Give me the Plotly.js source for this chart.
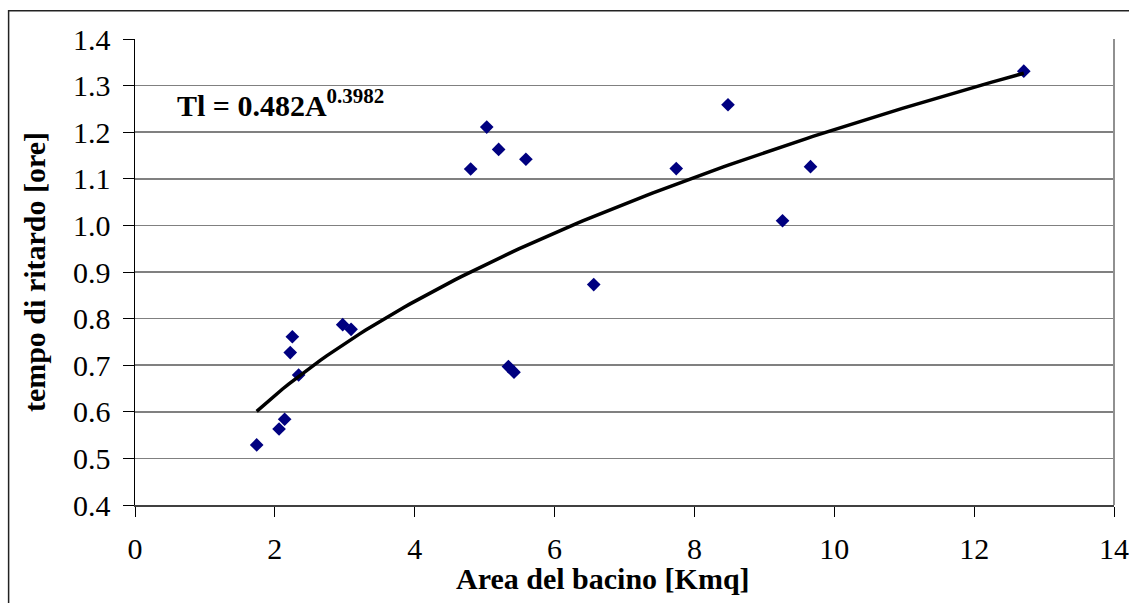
<!DOCTYPE html>
<html>
<head>
<meta charset="utf-8">
<script src="https://cdn.plot.ly/plotly-3.0.1.min.js"></script>
<style>
html, body { margin:0; padding:0; background:#fff; }
#chart { width:1129px; height:603px; }
</style>
</head>
<body>
<div id="chart"></div>
<script>
const areaKmq = [1.74, 2.06, 2.14, 2.22, 2.25, 2.34, 2.97, 3.09, 4.80, 5.03, 5.20, 5.34, 5.42, 5.59, 6.56, 7.74, 8.48, 9.26, 9.66, 12.71];
const lagTime = [0.529, 0.563, 0.584, 0.727, 0.761, 0.679, 0.787, 0.777, 1.121, 1.211, 1.163, 0.697, 0.685, 1.142, 0.873, 1.122, 1.259, 1.010, 1.126, 1.331];

// Power trendline shown on the chart: Tl = 0.482 A^0.3982
const trendCoef = 0.482;
const trendExp = 0.3982;

const xTickVals = [0, 2, 4, 6, 8, 10, 12, 14];
const yTickVals = [0.4, 0.5, 0.6, 0.7, 0.8, 0.9, 1.0, 1.1, 1.2, 1.3, 1.4];
const xTitle = 'Area del bacino [Kmq]';
const yTitle = 'tempo di ritardo [ore]';

const aMin = Math.min(...areaKmq), aMax = Math.max(...areaKmq);
const trendX = [], trendY = [];
const nT = 120;
for (let i = 0; i <= nT; i++) {
  const a = aMin + (aMax - aMin) * i / nT;
  trendX.push(a);
  trendY.push(trendCoef * Math.pow(a, trendExp));
}

const serif = "Liberation Serif, Times New Roman, serif";

const data = [
  {
    x: areaKmq, y: lagTime, type: 'scatter', mode: 'markers',
    marker: { symbol: 'diamond', size: 10.5, color: '#000080', line: { width: 0 } },
    showlegend: false, hoverinfo: 'x+y'
  },
  {
    x: trendX, y: trendY, type: 'scatter', mode: 'lines',
    line: { color: '#000000', width: 3.5 },
    showlegend: false, hoverinfo: 'skip'
  }
];

const layout = {
  width: 1129, height: 603,
  margin: { l: 135, r: 15, t: 39, b: 98 },
  paper_bgcolor: '#ffffff', plot_bgcolor: '#ffffff',
  font: { family: serif, color: '#000000', size: 30 },
  xaxis: {
    range: [0, 14], tickvals: xTickVals, ticktext: xTickVals.map(String),
    showgrid: false, zeroline: false,
    showline: true, linecolor: '#404040', linewidth: 2,
    ticks: 'outside', ticklen: 10, tickcolor: '#000000', tickwidth: 1,
    ticklabelstandoff: 6,
    tickfont: { family: serif, size: 30, color: '#000' }
  },
  yaxis: {
    range: [0.4, 1.4], tickvals: yTickVals, ticktext: yTickVals.map(v => v.toFixed(1)),
    showgrid: true, gridcolor: '#808080', gridwidth: 1.5,
    zeroline: false,
    showline: true, linecolor: '#000000', linewidth: 1.5,
    ticks: 'outside', ticklen: 11, tickcolor: '#000000', tickwidth: 1,
    ticklabelstandoff: 6,
    tickfont: { family: serif, size: 30, color: '#000' },
    title: { text: '<b>' + yTitle + '</b>', font: { family: serif, size: 30, color: '#000' }, standoff: 18 }
  },
  shapes: [
    { type: 'line', xref: 'paper', yref: 'paper', x0: 1, x1: 1, y0: 0, y1: 1, line: { color: '#909090', width: 2 } },
    { type: 'rect', xref: 'paper', yref: 'paper', x0: -0.1291, x1: 1.03, y0: -0.25, y1: 1.0605, line: { color: '#222222', width: 1.5 }, fillcolor: 'rgba(0,0,0,0)' }
  ],
  annotations: [
    {
      text: '<b>Tl = 0.482A<sup>0.3982</sup></b>', xref: 'x', yref: 'y',
      x: 0.57, y: 1.262, xanchor: 'left', yanchor: 'middle', showarrow: false,
      font: { family: serif, size: 30, color: '#000' }
    },
    {
      text: '<b>' + xTitle + '</b>', xref: 'paper', yref: 'paper',
      x: 0.4778, y: -0.157, xanchor: 'center', yanchor: 'middle', showarrow: false,
      font: { family: serif, size: 30, color: '#000' }
    }
  ]
};

Plotly.newPlot('chart', data, layout, { displayModeBar: false, staticPlot: true });
</script>
</body>
</html>
